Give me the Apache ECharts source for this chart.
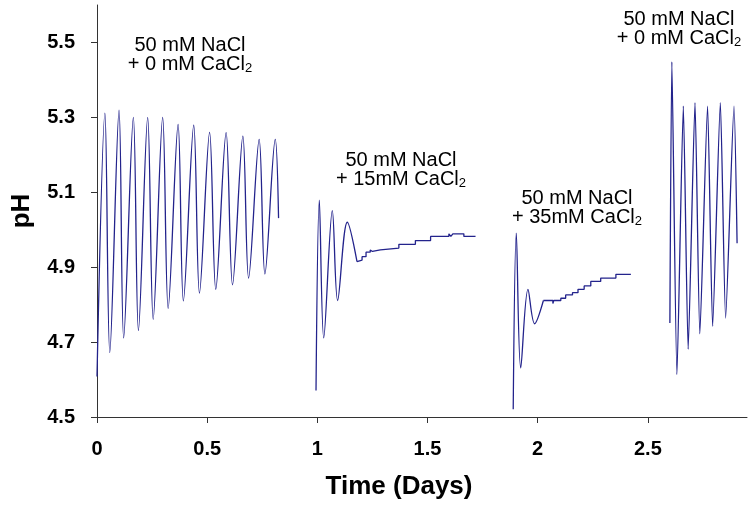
<!DOCTYPE html>
<html>
<head>
<meta charset="utf-8">
<script src="https://cdn.jsdelivr.net/npm/echarts@6/dist/echarts.min.js"></script>
<style>
html,body{margin:0;padding:0;background:#fff;}
#chart{width:750px;height:509px;}
</style>
</head>
<body>
<div id="chart"></div>
<script>
// Tick labels
const xTicks = [0, 0.5, 1, 1.5, 2, 2.5];
const yTicks = [4.5, 4.7, 4.9, 5.1, 5.3, 5.5];

// Run 1: 50 mM NaCl + 0 mM CaCl2 (oscillating)
const run1 = [
  [0.000, 4.608], [0.036, 5.311], [0.058, 4.672], [0.100, 5.319], [0.121, 4.711],
  [0.165, 5.300], [0.188, 4.731], [0.230, 5.300], [0.255, 4.761], [0.298, 5.300],
  [0.323, 4.790], [0.368, 5.281], [0.392, 4.810], [0.439, 5.279], [0.465, 4.831],
  [0.511, 5.260], [0.539, 4.841], [0.586, 5.259], [0.615, 4.853], [0.662, 5.250],
  [0.688, 4.871], [0.736, 5.241], [0.762, 4.882], [0.809, 5.241], [0.824, 5.031]
];

// Run 2: 50 mM NaCl + 15 mM CaCl2 (damped oscillation, then stepped plateau)
const run2Osc = [
  [0.994, 4.571], [1.009, 5.079], [1.029, 4.711], [1.068, 5.051], [1.092, 4.811],
  [1.136, 5.020], [1.180, 4.915]
];
const run2Steps = [
  [1.180, 4.915], [1.186, 4.919], [1.203, 4.928], [1.221, 4.940], [1.240, 4.946],
  [1.245, 4.942], [1.250, 4.946], [1.286, 4.951], [1.370, 4.961], [1.445, 4.971],
  [1.514, 4.982], [1.597, 4.989], [1.606, 4.982], [1.615, 4.989], [1.665, 4.982],
  [1.718, 4.982]
];

// Run 3: 50 mM NaCl + 35 mM CaCl2
const run3Osc = [
  [1.889, 4.521], [1.903, 4.991], [1.923, 4.631], [1.956, 4.841], [1.986, 4.749],
  [2.026, 4.811]
];
const run3Steps = [
  [2.026, 4.811], [2.069, 4.803], [2.073, 4.811], [2.105, 4.817], [2.127, 4.826],
  [2.137, 4.822], [2.141, 4.826], [2.158, 4.832], [2.183, 4.841], [2.211, 4.850],
  [2.241, 4.862], [2.286, 4.871], [2.355, 4.881], [2.423, 4.881]
];

// Run 4: 50 mM NaCl + 0 mM CaCl2 (oscillating again)
const run4 = [
  [2.600, 4.751], [2.609, 5.448], [2.632, 4.613], [2.661, 5.330], [2.683, 4.681],
  [2.714, 5.339], [2.736, 4.722], [2.771, 5.330], [2.794, 4.742], [2.829, 5.339],
  [2.853, 4.764], [2.891, 5.330], [2.905, 4.964]
];

// Annotations
const notes = [
  {x: 190, y: 36, l1: '50 mM NaCl', l2: '+ 0 mM CaCl'},
  {x: 401, y: 151, l1: '50 mM NaCl', l2: '+ 15mM CaCl'},
  {x: 577, y: 189, l1: '50 mM NaCl', l2: '+ 35mM CaCl'},
  {x: 679, y: 10, l1: '50 mM NaCl', l2: '+ 0 mM CaCl'}
];

const FONT = '"Liberation Sans", Arial, sans-serif';
const LINE = '#23238c';

const chart = echarts.init(document.getElementById('chart'), null, {renderer: 'canvas'});

function lineSeries(data, extra) {
  return Object.assign({
    type: 'line', data: data, showSymbol: false, symbol: 'none',
    lineStyle: {color: LINE, width: 1.3}, animation: false, z: 3
  }, extra || {});
}

const option = {
  backgroundColor: '#fff',
  animation: false,
  grid: {left: 97, right: 3, top: 5, bottom: 92},
  xAxis: {
    type: 'value', min: 0, max: 2.95,
    name: 'Time (Days)', nameLocation: 'middle', nameGap: 57,
    nameTextStyle: {fontFamily: FONT, fontSize: 26, fontWeight: 'bold', color: '#000',
      padding: [0, 46, 0, 0]},
    axisLine: {show: true, lineStyle: {color: '#333', width: 1}},
    axisTick: {show: true, length: 6, lineStyle: {color: '#333'}, customValues: xTicks},
    axisLabel: {fontFamily: FONT, fontSize: 20, fontWeight: 'bold', color: '#000', margin: 22,
      customValues: xTicks, formatter: v => String(v)},
    splitLine: {show: false}
  },
  yAxis: {
    type: 'value', min: 4.5, max: 5.6,
    name: 'pH', nameLocation: 'middle', nameGap: 62,
    nameTextStyle: {fontFamily: FONT, fontSize: 26, fontWeight: 'bold', color: '#000'},
    axisLine: {show: true, lineStyle: {color: '#333', width: 1}},
    axisTick: {show: true, length: 6, lineStyle: {color: '#333'}, customValues: yTicks},
    axisLabel: {fontFamily: FONT, fontSize: 20, fontWeight: 'bold', color: '#000', margin: 22,
      customValues: yTicks, formatter: v => v.toFixed(1)},
    splitLine: {show: false}
  },
  series: [
    lineSeries(run1, {smooth: 0.35}),
    lineSeries(run2Osc, {smooth: 0.35}),
    lineSeries(run2Steps, {step: 'end'}),
    lineSeries(run3Osc, {smooth: 0.35}),
    lineSeries(run3Steps, {step: 'end'}),
    lineSeries(run4, {smooth: 0.2})
  ],
  graphic: notes.map(n => ({
    type: 'text', x: n.x, y: n.y, z: 10,
    style: {
      text: '{a|' + n.l1 + '}\n{a|' + n.l2 + '}{s|2}',
      textAlign: 'center', textVerticalAlign: 'top',
      fill: '#000',
      rich: {
        a: {fontFamily: FONT, fontSize: 20, lineHeight: 19, fill: '#000'},
        s: {fontFamily: FONT, fontSize: 13, lineHeight: 19, padding: [8, 0, 0, 0], fill: '#000'}
      }
    }
  }))
};
chart.setOption(option);
</script>
</body>
</html>
